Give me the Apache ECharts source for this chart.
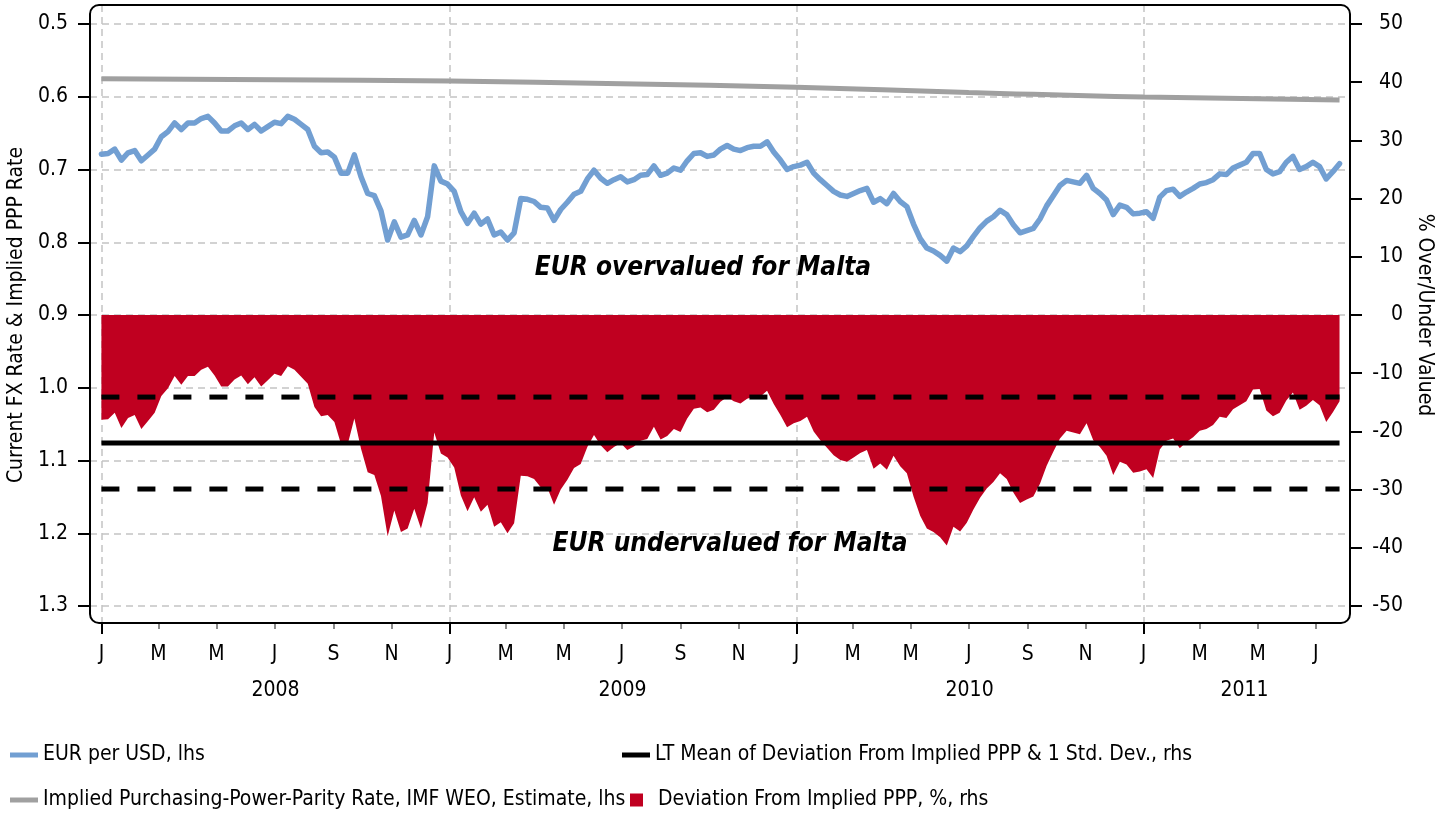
<!DOCTYPE html>
<html>
<head>
<meta charset="utf-8">
<title>EUR per USD vs implied PPP — Malta</title>
<script src="https://cdn.jsdelivr.net/npm/echarts@6/dist/echarts.min.js"></script>
<style>
  html, body { margin: 0; padding: 0; background: #ffffff; }
  #chart { width: 1441px; height: 817px; }
</style>
</head>
<body>
<div id="chart"></div>
<script>
// ---- data -------------------------------------------------------------
// Weekly observations, first one on 1 Jan 2008, one value every 7 days.
const weeklyStart = '2008-01-01';

// EUR per USD (left axis, inverted)
const eurPerUsd = [
  0.679, 0.678, 0.672, 0.687, 0.677, 0.674, 0.688, 0.680, 0.672, 0.655,
  0.648, 0.636, 0.645, 0.636, 0.636, 0.630, 0.627, 0.636, 0.647, 0.647,
  0.640, 0.636, 0.645, 0.638, 0.647, 0.641, 0.635, 0.637, 0.627, 0.631,
  0.638, 0.645, 0.668, 0.677, 0.676, 0.683, 0.705, 0.705, 0.680, 0.710,
  0.733, 0.736, 0.757, 0.797, 0.772, 0.793, 0.790, 0.770, 0.790, 0.765,
  0.695, 0.716, 0.720, 0.730, 0.758, 0.774, 0.760, 0.775, 0.768, 0.790,
  0.786, 0.797, 0.787, 0.740, 0.741, 0.744, 0.752, 0.753, 0.770, 0.755,
  0.745, 0.734, 0.730, 0.713, 0.701, 0.712, 0.719, 0.714, 0.710, 0.717,
  0.714, 0.708, 0.707, 0.695, 0.708, 0.705, 0.698, 0.701, 0.688, 0.678,
  0.677, 0.682, 0.680, 0.672, 0.667, 0.672, 0.674, 0.670, 0.668, 0.668,
  0.662, 0.676, 0.687, 0.700, 0.696, 0.694, 0.690, 0.705, 0.714, 0.722,
  0.730, 0.735, 0.737, 0.733, 0.729, 0.726, 0.745, 0.740, 0.747, 0.733,
  0.744, 0.751, 0.775, 0.795, 0.808, 0.812, 0.818, 0.826, 0.808, 0.813,
  0.805, 0.792, 0.780, 0.771, 0.765, 0.756, 0.762, 0.776, 0.787, 0.784,
  0.781, 0.768, 0.750, 0.736, 0.722, 0.715, 0.717, 0.719, 0.708, 0.726,
  0.733, 0.742, 0.762, 0.749, 0.752, 0.761, 0.760, 0.758, 0.767, 0.738,
  0.729, 0.727, 0.737, 0.731, 0.726, 0.720, 0.718, 0.714, 0.706, 0.707,
  0.698, 0.694, 0.690, 0.678, 0.678, 0.700, 0.706, 0.703, 0.690, 0.682,
  0.700, 0.696, 0.690, 0.696, 0.713, 0.703, 0.692
];

// Deviation from implied PPP, % (right axis)
const deviationPct = [
  -18.0, -17.9, -16.8, -19.4, -17.7, -17.2, -19.6, -18.2, -16.8, -13.9,
  -12.6, -10.5, -12.0, -10.5, -10.5,  -9.4,  -8.9, -10.4, -12.3, -12.3,
  -11.1, -10.4, -11.9, -10.7, -12.3, -11.2, -10.1, -10.5,  -8.8,  -9.4,
  -10.6, -11.8, -15.8, -17.4, -17.2, -18.4, -22.2, -22.2, -17.8, -23.0,
  -27.0, -27.5, -31.1, -38.0, -33.6, -37.3, -36.7, -33.3, -36.7, -32.3,
  -20.2, -23.8, -24.5, -26.2, -31.0, -33.7, -31.3, -33.8, -32.6, -36.4,
  -35.6, -37.5, -35.8, -27.6, -27.7, -28.2, -29.6, -29.7, -32.6, -30.0,
  -28.3, -26.3, -25.6, -22.7, -20.6, -22.4, -23.6, -22.7, -22.0, -23.2,
  -22.6, -21.6, -21.3, -19.2, -21.4, -20.8, -19.6, -20.1, -17.8, -16.1,
  -15.9, -16.7, -16.3, -14.9, -14.1, -14.8, -15.2, -14.4, -14.0, -14.0,
  -13.0, -15.3, -17.2, -19.3, -18.6, -18.2, -17.5, -20.0, -21.5, -22.8,
  -24.1, -24.9, -25.2, -24.5, -23.7, -23.2, -26.4, -25.5, -26.6, -24.2,
  -26.0, -27.2, -31.2, -34.5, -36.7, -37.3, -38.2, -39.6, -36.4, -37.2,
  -35.7, -33.4, -31.4, -29.8, -28.7, -27.2, -28.2, -30.5, -32.3, -31.7,
  -31.2, -29.0, -25.9, -23.5, -21.2, -19.9, -20.2, -20.5, -18.6, -21.5,
  -22.7, -24.2, -27.5, -25.2, -25.7, -27.1, -26.9, -26.5, -28.0, -23.1,
  -21.6, -21.2, -22.9, -21.8, -21.0, -19.9, -19.6, -18.9, -17.5, -17.7,
  -16.2, -15.5, -14.8, -12.8, -12.7, -16.4, -17.4, -16.8, -14.7, -13.3,
  -16.3, -15.6, -14.6, -15.5, -18.4, -16.7, -14.8
];

// Implied PPP rate, IMF WEO estimate (EUR per USD)
const pppDates = ['2008-01-01', '2008-07-01', '2009-01-01', '2009-07-01', '2010-01-01', '2010-07-01', '2011-01-01', '2011-07-26'];
const pppRates = [0.5752, 0.5765, 0.5785, 0.5820, 0.5870, 0.5940, 0.6005, 0.6045];

// Long-term mean of the deviation and one standard deviation, %
const ltMean = -22.0;
const ltStdDev = 7.9;

// Axis text
const monthLetters = ['J', 'F', 'M', 'A', 'M', 'J', 'J', 'A', 'S', 'O', 'N', 'D'];
const yearLabelDates = ['2008-07-02', '2009-07-02', '2010-07-02', '2011-04-17'];
const axisFirstDay = '2007-12-20';
const axisLastDay = '2011-08-06';

const NAME_FX = 'EUR per USD, lhs';
const NAME_PPP = 'Implied Purchasing-Power-Parity Rate, IMF WEO, Estimate, lhs';
const NAME_LT = 'LT Mean of Deviation From Implied PPP & 1 Std. Dev., rhs';
const NAME_DEV = 'Deviation From Implied PPP, %, rhs';

// ---- helpers ------------------------------------------------------------
const DAY_MS = 86400000;
const isoDay = t => new Date(t).toISOString().slice(0, 10);

// one category per calendar day
const days = [];
for (let t = Date.parse(axisFirstDay); t <= Date.parse(axisLastDay); t += DAY_MS) days.push(isoDay(t));

const weekDates = eurPerUsd.map((_, i) => isoDay(Date.parse(weeklyStart) + i * 7 * DAY_MS));
const lastWeek = weekDates[weekDates.length - 1];
const fxSeries = weekDates.map((d, i) => [d, eurPerUsd[i]]);
const devSeries = weekDates.map((d, i) => [d, deviationPct[i]]);
const pppSeries = pppDates.map((d, i) => [d, pppRates[i]]);
const flatLine = v => [[weeklyStart, v], [lastWeek, v]];

const firstOfMonth = (d, months) => d.slice(8) === '01' && months.indexOf(+d.slice(5, 7)) >= 0;

const FONT = "'Liberation Sans Narrow', 'DejaVu Sans Condensed', 'Arial Narrow', sans-serif";
const BLUE = '#729fd2';
const GRAY = '#a0a0a0';
const RED = '#c00020';
const GRID_LINE = { color: '#c4c4c4', width: 1.5, type: [7, 5] };

const textBase = { fontFamily: FONT, fontSize: 21, color: '#000' };

function legendAt(name, left, top, icon, w, h, color, extraText) {
  return {
    data: [{ name: name, icon: icon, itemStyle: { color: color } }],
    left: left, top: top, padding: 0,
    itemWidth: w, itemHeight: h,
    selectedMode: false,
    textStyle: Object.assign({ fontFamily: FONT, fontSize: 21, color: '#000', lineHeight: 24 }, extraText || {})
  };
}

// ---- chart --------------------------------------------------------------
const chart = echarts.init(document.getElementById('chart'), null, { renderer: 'canvas' });

chart.setOption({
  animation: false,
  backgroundColor: '#ffffff',
  grid: [
    { left: 90, right: 91, top: 24, bottom: 211, outerBoundsMode: 'none', containLabel: false },
    { left: 90, right: 91, top: 5, bottom: 194, outerBoundsMode: 'none', containLabel: false }
  ],
  xAxis: [
    { gridIndex: 0, type: 'category', data: days, boundaryGap: false, show: false },
    {
      gridIndex: 1, type: 'category', data: days, boundaryGap: false, position: 'bottom',
      axisLine: { show: false },
      axisTick: { interval: (i, v) => firstOfMonth(v, [1]), length: 11, lineStyle: { color: '#000', width: 2 } },
      axisLabel: {
        interval: (i, v) => firstOfMonth(v, [1, 3, 5, 7, 9, 11]),
        formatter: v => monthLetters[+v.slice(5, 7) - 1],
        margin: 21, hideOverlap: false, ...textBase
      },
      splitLine: { show: true, interval: (i, v) => firstOfMonth(v, [1]), lineStyle: GRID_LINE }
    },
    {
      gridIndex: 1, type: 'category', data: days, boundaryGap: false, position: 'bottom',
      axisLine: { show: false },
      axisTick: { interval: (i, v) => firstOfMonth(v, [3, 5, 7, 9, 11]), length: 6, lineStyle: { color: '#8a8a8a', width: 2 } },
      axisLabel: { show: false },
      splitLine: { show: false }
    },
    {
      gridIndex: 1, type: 'category', data: days, boundaryGap: false, position: 'bottom',
      axisLine: { show: false }, axisTick: { show: false }, splitLine: { show: false },
      axisLabel: {
        interval: (i, v) => yearLabelDates.indexOf(v) >= 0,
        formatter: v => v.slice(0, 4),
        margin: 57, hideOverlap: false, ...textBase
      }
    }
  ],
  yAxis: [
    {
      gridIndex: 0, type: 'value', inverse: true, min: 0.5, max: 1.3, interval: 0.1, position: 'left',
      axisLine: { show: false },
      axisTick: { show: true, length: 12, lineStyle: { color: '#000', width: 2 } },
      axisLabel: { formatter: v => v.toFixed(1), margin: 22, ...textBase },
      splitLine: { show: true, lineStyle: GRID_LINE },
      name: 'Current FX Rate & Implied PPP Rate', nameLocation: 'middle', nameRotate: 90, nameGap: 61,
      nameTextStyle: { fontFamily: FONT, fontSize: 21, color: '#000' }
    },
    {
      gridIndex: 0, type: 'value', min: -50, max: 50, interval: 10, position: 'right',
      axisLine: { show: false },
      axisTick: { show: true, length: 12, lineStyle: { color: '#000', width: 2 } },
      axisLabel: { margin: 53, align: 'right', ...textBase },
      splitLine: { show: false },
      name: '% Over/Under Valued', nameLocation: 'middle', nameRotate: -90, nameGap: 62,
      nameTextStyle: { fontFamily: FONT, fontSize: 21, color: '#000' }
    },
    { gridIndex: 1, type: 'value', show: false, min: 0, max: 1, splitLine: { show: false } }
  ],
  legend: [
    legendAt(NAME_FX, 10, 743, 'rect', 28, 5, BLUE),
    legendAt(NAME_PPP, 10, 788, 'rect', 28, 5, GRAY),
    legendAt(NAME_LT, 622, 743, 'rect', 28, 5, '#000'),
    legendAt(NAME_DEV, 630, 788, 'rect', 13, 13, RED, { padding: [0, 0, 0, 10] })
  ],
  series: [
    {
      name: NAME_DEV, type: 'line', xAxisIndex: 0, yAxisIndex: 1, data: devSeries,
      symbol: 'none', lineStyle: { width: 0, color: RED }, itemStyle: { color: RED },
      areaStyle: { color: RED, opacity: 1 }, z: 2
    },
    {
      name: NAME_LT, type: 'line', xAxisIndex: 0, yAxisIndex: 1, data: flatLine(ltMean),
      symbol: 'none', lineStyle: { color: '#000', width: 5 }, itemStyle: { color: '#000' }, z: 3
    },
    {
      name: NAME_LT, type: 'line', xAxisIndex: 0, yAxisIndex: 1, data: flatLine(ltMean + ltStdDev),
      symbol: 'none', lineStyle: { color: '#000', width: 5, type: [18, 18] }, itemStyle: { color: '#000' }, z: 3
    },
    {
      name: NAME_LT, type: 'line', xAxisIndex: 0, yAxisIndex: 1, data: flatLine(ltMean - ltStdDev),
      symbol: 'none', lineStyle: { color: '#000', width: 5, type: [18, 18] }, itemStyle: { color: '#000' }, z: 3
    },
    {
      name: NAME_PPP, type: 'line', xAxisIndex: 0, yAxisIndex: 0, data: pppSeries, smooth: true,
      symbol: 'none', lineStyle: { color: GRAY, width: 5 }, itemStyle: { color: GRAY }, z: 4
    },
    {
      name: NAME_FX, type: 'line', xAxisIndex: 0, yAxisIndex: 0, data: fxSeries,
      symbol: 'none', lineStyle: { color: BLUE, width: 5.5, join: 'round', cap: 'round' }, itemStyle: { color: BLUE }, z: 5
    }
  ],
  graphic: [
    {
      type: 'text', x: 703, y: 268, z: 50,
      style: { text: 'EUR overvalued for Malta', fill: '#000', fontFamily: FONT, fontSize: 26,
               fontWeight: 'bold', fontStyle: 'italic', align: 'center', verticalAlign: 'middle' }
    },
    {
      type: 'text', x: 730, y: 544, z: 50,
      style: { text: 'EUR undervalued for Malta', fill: '#000', fontFamily: FONT, fontSize: 26,
               fontWeight: 'bold', fontStyle: 'italic', align: 'center', verticalAlign: 'middle' }
    },
    {
      type: 'rect', z: 100, silent: true,
      shape: { x: 90, y: 5, width: 1260, height: 618, r: 9 },
      style: { fill: 'none', stroke: '#000', lineWidth: 2 }
    }
  ]
});
</script>
</body>
</html>
